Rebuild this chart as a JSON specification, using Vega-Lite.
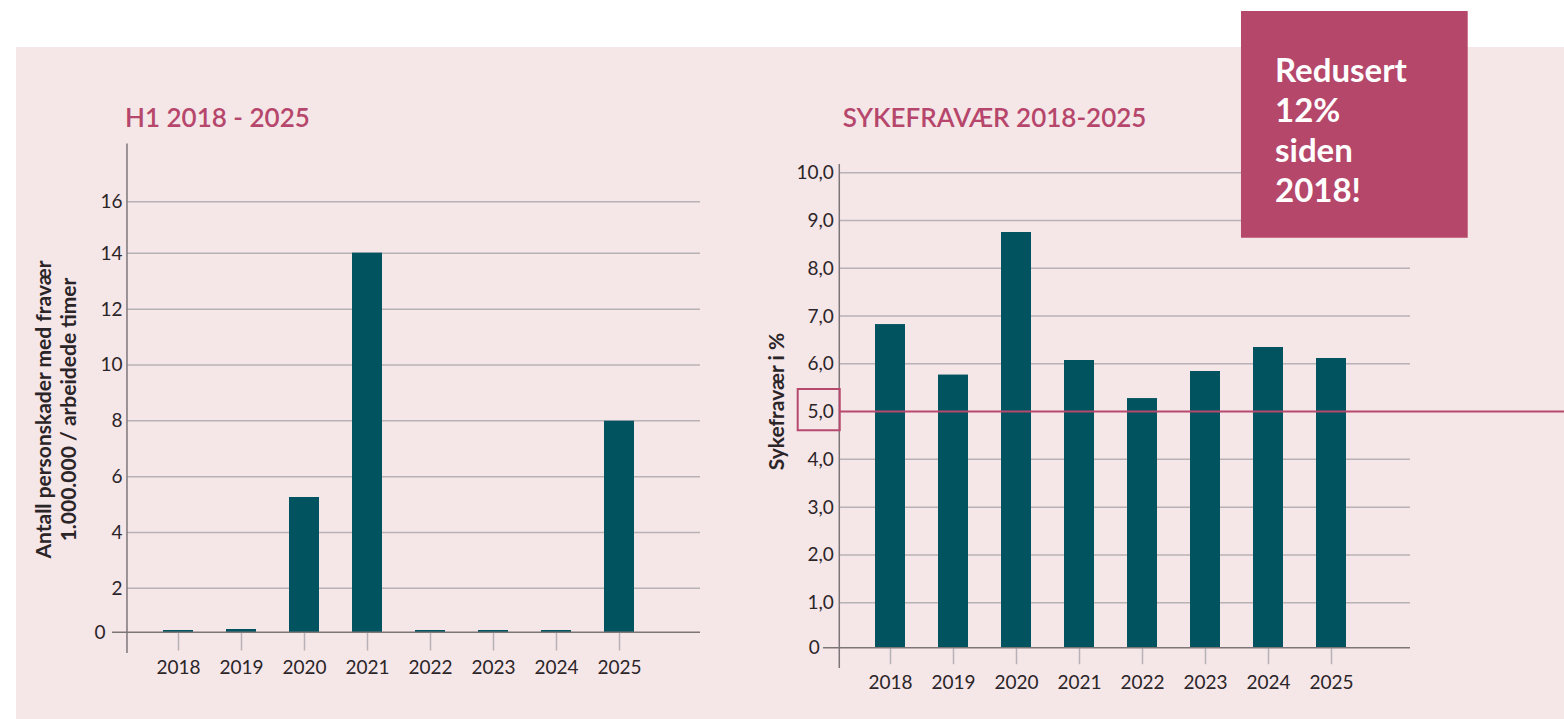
{
  "$schema": "https://vega.github.io/schema/vega-lite/v6.json",
  "width": 1548,
  "height": 672,
  "autosize": {"type": "none"},
  "padding": {"left": 16, "top": 47, "right": 0, "bottom": 0},
  "background": "#ffffff",
  "view": {"fill": "#f5e6e8", "stroke": null},
  "config": {
    "font": "Lato",
    "text": {"font": "Lato"},
    "axis": {"labelFont": "Lato", "titleFont": "Lato"}
  },
  "datasets": {
    "left": [
      {"year": 2018, "value": 0.1},
      {"year": 2019, "value": 0.15},
      {"year": 2020, "value": 5.27},
      {"year": 2021, "value": 14.02},
      {"year": 2022, "value": 0.1},
      {"year": 2023, "value": 0.1},
      {"year": 2024, "value": 0.1},
      {"year": 2025, "value": 8.0}
    ],
    "right": [
      {"year": 2018, "value": 6.83},
      {"year": 2019, "value": 5.77},
      {"year": 2020, "value": 8.76},
      {"year": 2021, "value": 6.08},
      {"year": 2022, "value": 5.28},
      {"year": 2023, "value": 5.85},
      {"year": 2024, "value": 6.35},
      {"year": 2025, "value": 6.12}
    ],
    "gridL": [{"v": 2}, {"v": 4}, {"v": 6}, {"v": 8}, {"v": 10}, {"v": 12}, {"v": 14}, {"v": 16}],
    "gridR": [{"v": 1}, {"v": 2}, {"v": 3}, {"v": 4}, {"v": 6}, {"v": 7}, {"v": 8}, {"v": 9}, {"v": 10}],
    "one": [{}]
  },
  "layer": [
    {
      "layer": [
        {
          "data": {"name": "left"},
          "mark": {"type": "bar", "width": 30, "color": "#00535f"},
          "encoding": {
            "x": {
              "field": "year", "type": "quantitative",
              "scale": {"domain": [2018, 2025], "range": [162, 603], "nice": false, "zero": false, "padding": 0},
              "axis": {
                "orient": "bottom", "offset": -86.7, "values": [2018, 2019, 2020, 2021, 2022, 2023, 2024, 2025],
                "format": "d", "domain": false, "grid": false, "ticks": true, "tickSize": 17.7,
                "tickColor": "#b7b2b6", "tickWidth": 1.5, "labelPadding": 8, "labelFontSize": 19,
                "labelColor": "#2b2528", "labelFlush": false, "labelOverlap": false, "title": null
              }
            },
            "y": {
              "field": "value", "type": "quantitative",
              "scale": {"domain": [0, 2, 14, 16], "range": [585.3, 541.3, 206.3, 154.7], "nice": false, "zero": false, "padding": 0},
              "axis": {
                "orient": "left", "offset": -111, "values": [0, 2, 4, 6, 8, 10, 12, 14, 16],
                "format": "d", "domain": false, "grid": false, "ticks": false,
                "labelPadding": {"condition": {"test": "datum.value == 0", "value": 22}, "value": 5},
                "labelFontSize": 19, "labelColor": "#2b2528", "labelFlush": false, "labelOverlap": false,
                "title": ["Antall personskader med fravær", "1.000.000 / arbeidede timer"],
                "titleX": -83, "titleY": 362, "titleAngle": -90, "titleAlign": "center",
                "titleBaseline": "middle", "titleFontSize": 21, "titleFontWeight": "bold",
                "titleLineHeight": 25, "titleColor": "#2b2528"
              }
            },
            "y2": {"datum": 0}
          }
        },
        {
          "data": {"name": "gridL"},
          "mark": {"type": "rule", "color": "#b7b2b6", "strokeWidth": 1.5},
          "encoding": {
            "y": {"field": "v", "type": "quantitative"},
            "x": {"datum": 2017.19, "type": "quantitative"},
            "x2": {"datum": 2026.286}
          }
        },
        {
          "data": {"name": "left"},
          "mark": {"type": "bar", "width": 30, "color": "#00535f"},
          "encoding": {
            "x": {"field": "year", "type": "quantitative"},
            "y": {"field": "value", "type": "quantitative"},
            "y2": {"datum": 0}
          }
        },
        {
          "data": {"name": "one"},
          "mark": {"type": "rule", "color": "#7d7679", "strokeWidth": 1.5},
          "encoding": {
            "y": {"datum": 0, "type": "quantitative"},
            "x": {"datum": 2016.952, "type": "quantitative"},
            "x2": {"datum": 2026.286}
          }
        },
        {
          "data": {"name": "one"},
          "mark": {"type": "rule", "color": "#7d7679", "strokeWidth": 1.5},
          "encoding": {
            "x": {"datum": 2017.19, "type": "quantitative"},
            "y": {"datum": 18.255, "type": "quantitative"},
            "y2": {"datum": -0.941}
          }
        },
        {
          "data": {"name": "one"},
          "mark": {"type": "text", "align": "left", "baseline": "alphabetic", "fontSize": 26, "fontWeight": 600, "color": "#b6466b", "text": "H1 2018 - 2025"},
          "encoding": {
            "x": {"datum": 2017.159, "type": "quantitative"},
            "y": {"datum": 18.897, "type": "quantitative"}
          }
        }
      ]
    },
    {
      "layer": [
        {
          "data": {"name": "right"},
          "mark": {"type": "bar", "width": 30, "color": "#00535f"},
          "encoding": {
            "x": {
              "field": "year", "type": "quantitative",
              "scale": {"domain": [2018, 2025], "range": [874, 1315], "nice": false, "zero": false, "padding": 0},
              "axis": {
                "orient": "bottom", "offset": -71.3, "values": [2018, 2019, 2020, 2021, 2022, 2023, 2024, 2025],
                "format": "d", "domain": false, "grid": false, "ticks": true, "tickSize": 16,
                "tickColor": "#b7b2b6", "tickWidth": 1.5, "labelPadding": 9.5, "labelFontSize": 19,
                "labelColor": "#2b2528", "labelFlush": false, "labelOverlap": false, "title": null
              }
            },
            "y": {
              "field": "value", "type": "quantitative",
              "scale": {"domain": [0, 1, 10], "range": [600.7, 555.7, 125.7], "nice": false, "zero": false, "padding": 0},
              "axis": {
                "orient": "left", "offset": -823.3, "values": [0, 1, 2, 3, 4, 5, 6, 7, 8, 9, 10],
                "labelExpr": "datum.value == 0 ? '0' : replace(format(datum.value, '.1f'), '.', ',')",
                "domain": false, "grid": false, "ticks": false,
                "labelPadding": {"condition": {"test": "datum.value == 0", "value": 20}, "value": 6},
                "labelFontSize": 19, "labelColor": "#2b2528", "labelFlush": false, "labelOverlap": false,
                "title": "Sykefravær i %",
                "titleX": -62, "titleY": 354, "titleAngle": -90, "titleAlign": "center",
                "titleBaseline": "middle", "titleFontSize": 21, "titleFontWeight": "bold",
                "titleColor": "#2b2528"
              }
            },
            "y2": {"datum": 0}
          }
        },
        {
          "data": {"name": "gridR"},
          "mark": {"type": "rule", "color": "#b7b2b6", "strokeWidth": 1.5},
          "encoding": {
            "y": {"field": "v", "type": "quantitative"},
            "x": {"datum": 2017.195, "type": "quantitative"},
            "x2": {"datum": 2026.254}
          }
        },
        {
          "data": {"name": "right"},
          "mark": {"type": "bar", "width": 30, "color": "#00535f"},
          "encoding": {
            "x": {"field": "year", "type": "quantitative"},
            "y": {"field": "value", "type": "quantitative"},
            "y2": {"datum": 0}
          }
        },
        {
          "data": {"name": "one"},
          "mark": {"type": "rule", "color": "#7d7679", "strokeWidth": 1.5},
          "encoding": {
            "y": {"datum": 0, "type": "quantitative"},
            "x": {"datum": 2016.937, "type": "quantitative"},
            "x2": {"datum": 2026.254}
          }
        },
        {
          "data": {"name": "one"},
          "mark": {"type": "rule", "color": "#7d7679", "strokeWidth": 1.5},
          "encoding": {
            "x": {"datum": 2017.195, "type": "quantitative"},
            "y": {"datum": 10.18, "type": "quantitative"},
            "y2": {"datum": -0.451}
          }
        },
        {
          "data": {"name": "one"},
          "mark": {"type": "rule", "color": "#b8496e", "strokeWidth": 2},
          "encoding": {
            "y": {"datum": 5, "type": "quantitative"},
            "x": {"datum": 2017.195, "type": "quantitative"},
            "x2": {"datum": 2028.698}
          }
        },
        {
          "data": {"name": "one"},
          "mark": {"type": "rect", "fill": null, "fillOpacity": 0, "stroke": "#b8496e", "strokeWidth": 2},
          "encoding": {
            "x": {"datum": 2016.535, "type": "quantitative"},
            "x2": {"datum": 2017.202},
            "y": {"datum": 5.473, "type": "quantitative"},
            "y2": {"datum": 4.608}
          }
        },
        {
          "data": {"name": "one"},
          "mark": {"type": "text", "align": "left", "baseline": "alphabetic", "fontSize": 26, "fontWeight": 600, "color": "#b6466b", "text": "SYKEFRAVÆR 2018-2025"},
          "encoding": {
            "x": {"datum": 2017.249, "type": "quantitative"},
            "y": {"datum": 10.962, "type": "quantitative"}
          }
        },
        {
          "data": {"name": "one"},
          "mark": {"type": "rect", "color": "#b5476a"},
          "encoding": {
            "x": {"datum": 2023.571, "type": "quantitative"},
            "x2": {"datum": 2027.170},
            "y": {"datum": 13.384, "type": "quantitative"},
            "y2": {"datum": 8.639}
          }
        },
        {
          "data": {"name": "one"},
          "mark": {"type": "text", "align": "left", "baseline": "alphabetic", "fontSize": 33, "fontWeight": "bold", "color": "#ffffff", "lineHeight": 40, "text": ["Redusert", "12%", "siden", "2018!"]},
          "encoding": {
            "x": {"datum": 2024.111, "type": "quantitative"},
            "y": {"datum": 11.898, "type": "quantitative"}
          }
        }
      ]
    }
  ],
  "resolve": {
    "scale": {"x": "independent", "y": "independent"},
    "axis": {"x": "independent", "y": "independent"}
  }
}
